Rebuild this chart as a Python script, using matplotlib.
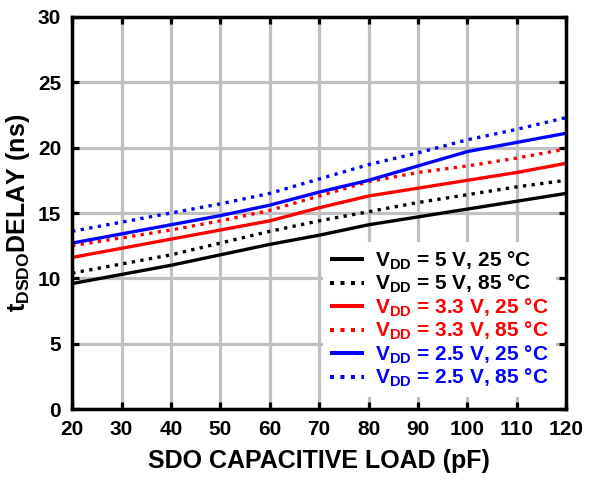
import matplotlib
matplotlib.use("Agg")
import matplotlib.pyplot as plt

plt.rcParams['font.family'] = ['Liberation Sans', 'DejaVu Sans']
plt.rcParams['font.weight'] = 'bold'
plt.rcParams['mathtext.fontset'] = 'custom'
plt.rcParams['mathtext.rm'] = 'Liberation Sans:bold'
plt.rcParams['mathtext.bf'] = 'Liberation Sans:bold'
plt.rcParams['mathtext.it'] = 'Liberation Sans:bold'

# SDO capacitive load (pF)
load_pf = [20, 30, 40, 50, 60, 70, 80, 90, 100, 110, 120]

# Propagation delay (ns) per supply / temperature condition
vdd5_25c = [9.6, 10.3, 11.0, 11.8, 12.6, 13.3, 14.1, 14.7, 15.3, 15.9, 16.5]
vdd5_85c = [10.4, 11.1, 11.8, 12.7, 13.6, 14.4, 15.1, 15.8, 16.4, 17.0, 17.5]
vdd33_25c = [11.6, 12.3, 13.0, 13.7, 14.4, 15.4, 16.3, 16.9, 17.5, 18.1, 18.8]
vdd33_85c = [12.5, 13.1, 13.7, 14.4, 15.2, 16.3, 17.4, 18.1, 18.6, 19.2, 19.9]
vdd25_25c = [12.7, 13.4, 14.1, 14.8, 15.6, 16.6, 17.5, 18.6, 19.7, 20.4, 21.1]
vdd25_85c = [13.6, 14.3, 15.0, 15.7, 16.5, 17.6, 18.7, 19.6, 20.6, 21.4, 22.3]

labels = [
    r'$\mathbf{V_{DD}}$ = 5 V, 25 °C',
    r'$\mathbf{V_{DD}}$ = 5 V, 85 °C',
    r'$\mathbf{V_{DD}}$ = 3.3 V, 25 °C',
    r'$\mathbf{V_{DD}}$ = 3.3 V, 85 °C',
    r'$\mathbf{V_{DD}}$ = 2.5 V, 25 °C',
    r'$\mathbf{V_{DD}}$ = 2.5 V, 85 °C',
]
series = [vdd5_25c, vdd5_85c, vdd33_25c, vdd33_85c, vdd25_25c, vdd25_85c]
colors = ['#000000', '#000000', '#ff0000', '#ff0000', '#0000ff', '#0000ff']
dotted = (0, (1, 1.6))
styles = ['-', dotted, '-', dotted, '-', dotted]

fig = plt.figure(figsize=(5.96, 4.83), dpi=100)
ax = fig.add_axes([0.121, 0.153, 0.829, 0.812])

for y, c, ls, lab in zip(series, colors, styles, labels):
    ax.plot(load_pf, y, color=c, linestyle=ls, linewidth=2.4, label=lab,
            solid_capstyle='butt', dash_capstyle='butt', zorder=3)

ax.set_xlim(20, 120)
ax.set_ylim(0, 30)
ax.set_xticks(range(20, 121, 10))
ax.set_yticks(range(0, 31, 5))
ax.grid(True, color='#c0c0c0', linewidth=2.3, zorder=0)
ax.set_axisbelow(True)

for sp in ax.spines.values():
    sp.set_linewidth(2.5)
    sp.set_zorder(4)

ax.tick_params(axis='both', which='both', direction='in', length=5, width=2.3,
               top=True, right=True, labelsize=15, pad=8, color='black')
for t in ax.get_xticklabels() + ax.get_yticklabels():
    t.set_fontweight('bold')

ax.set_xlabel('SDO CAPACITIVE LOAD (pF)', fontsize=18, fontweight='bold', labelpad=7)
ax.set_ylabel(r'$\mathbf{t_{DSDO}}$DELAY (ns)', fontsize=18, fontweight='bold', labelpad=4)

leg = ax.legend(loc='lower right', bbox_to_anchor=(1.0, 0.005), fontsize=15,
                frameon=True, facecolor='white', edgecolor='none', framealpha=1,
                fancybox=False, handlelength=1.65, handletextpad=0.5,
                labelspacing=0.06, borderpad=0.35)
leg.set_zorder(5)
for txt, c in zip(leg.get_texts(), colors):
    txt.set_color(c)
    txt.set_fontweight('bold')
for h in leg.get_lines():
    h.set_linewidth(2.9)

fig.savefig('out.png', dpi=100)
